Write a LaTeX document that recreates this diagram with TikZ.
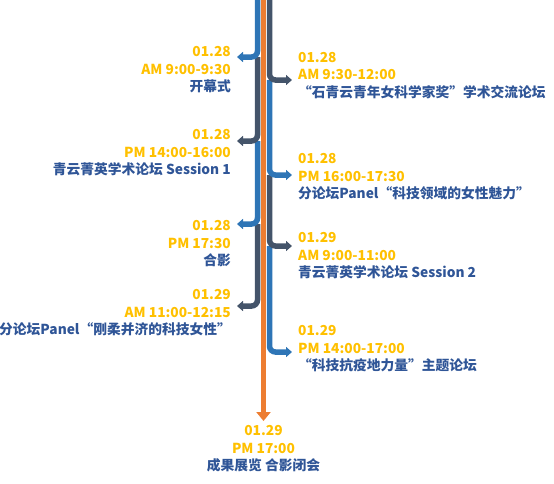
\documentclass[tikz,border=0pt]{standalone}
\usepackage{fontspec}
\newfontfamily\cjkbold{Noto Sans CJK SC}
\usetikzlibrary{arrows.meta}

\definecolor{laneblue}{HTML}{2E75B6}
\definecolor{lanedark}{HTML}{44546A}
\definecolor{laneorange}{HTML}{ED7D31}
\definecolor{timeyellow}{HTML}{FFC000}
\definecolor{titleblue}{HTML}{2F5597}

\newcommand{\evtime}[1]{\textcolor{timeyellow}{#1}}

\tikzset{
  lane/.style={line width=5.5pt,rounded corners=6pt,-{Triangle[width=10pt,length=6pt]}},
  mainlane/.style={line width=5.5pt,color=laneorange,-{Triangle[width=14pt,length=9pt]}},
  evtleft/.style={anchor=east,align=right,inner sep=0pt,text=titleblue,
    font=\cjkbold\bfseries\fontsize{13.75}{17.5}\selectfont},
  evtright/.style={anchor=west,align=left,inner sep=0pt,text=titleblue,
    font=\cjkbold\bfseries\fontsize{13.75}{17.5}\selectfont},
}

\begin{document}
\begin{tikzpicture}[x=1pt,y=-1pt]
\useasboundingbox (0,0) rectangle (554,483);

% lanes
\coordinate (ltop) at (257.5,0);
\coordinate (mtop) at (263.5,0);
\coordinate (rtop) at (269.5,0);

% arrow tips
\coordinate (tip1) at (237,57);
\coordinate (tip2) at (292,80);
\coordinate (tip3) at (237,141);
\coordinate (tip4) at (292,175);
\coordinate (tip5) at (237,224);
\coordinate (tip6) at (292,246);
\coordinate (tip7) at (237,306);
\coordinate (tip8) at (292,352);
\coordinate (mend) at (263.5,421);

% events
\node[evtleft] (kaimu) at (231,70) {\evtime{01.28}\\\evtime{AM 9:00-9:30}\\开幕式};
\node[evtright] (luntan) at (298,75.5) {\evtime{01.28}\\\evtime{AM 9:30-12:00}\\“石青云青年女科学家奖”学术交流论坛};
\node[evtleft] (sessiona) at (231,153) {\evtime{01.28}\\\evtime{PM 14:00-16:00}\\青云菁英学术论坛 Session 1};
\node[evtright] (panela) at (298,177) {\evtime{01.28}\\\evtime{PM 16:00-17:30}\\分论坛Panel“科技领域的女性魅力”};
\node[evtleft] (heying) at (231,244) {\evtime{01.28}\\\evtime{PM 17:30}\\合影};
\node[evtright] (sessionb) at (298,256) {\evtime{01.29}\\\evtime{AM 9:00-11:00}\\青云菁英学术论坛 Session 2};
\node[evtleft] (panelb) at (231,313) {\evtime{01.29}\\\evtime{AM 11:00-12:15}\\分论坛Panel“刚柔并济的科技女性”};
\node[evtright] (kangyi) at (298,349) {\evtime{01.29}\\\evtime{PM 14:00-17:00}\\“科技抗疫地力量”主题论坛};
\node[evtleft,anchor=center,align=center] (bimu) at (263.5,449) {\evtime{01.29}\\\evtime{PM 17:00}\\成果展览 合影闭会};

% main line
\draw[mainlane] (mtop) -- (mend);

% left side
\draw[lane,color=lanedark] (ltop |- tip5) |- (tip7);
\draw[lane,color=laneblue] (ltop |- tip3) |- (tip5);
\draw[lane,color=lanedark] (ltop |- tip1) |- (tip3);
\draw[lane,color=laneblue] (ltop) |- (tip1);

% right side
\draw[lane,color=laneblue] (rtop |- tip6) |- (tip8);
\draw[lane,color=lanedark] (rtop |- tip4) |- (tip6);
\draw[lane,color=laneblue] (rtop |- tip2) |- (tip4);
\draw[lane,color=lanedark] (rtop) |- (tip2);

\end{tikzpicture}
\end{document}
